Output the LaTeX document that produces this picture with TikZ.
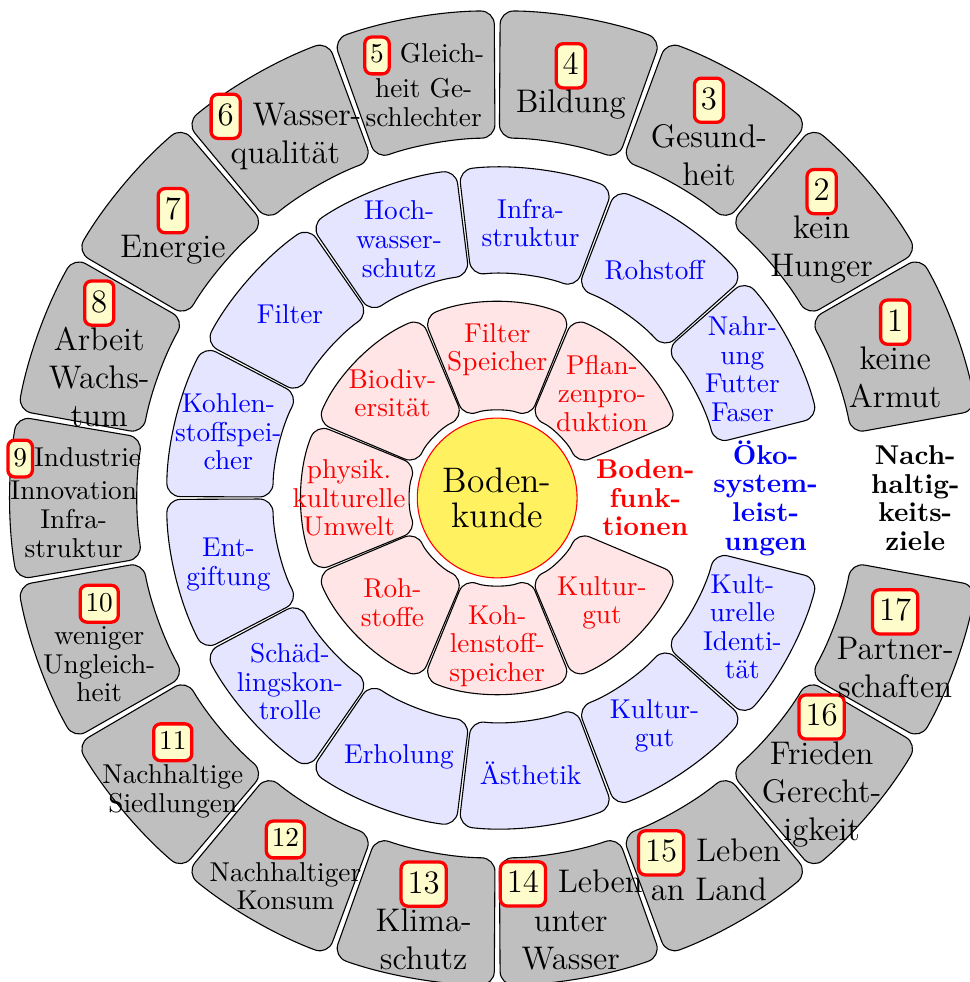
\documentclass[tikz,border=0pt]{standalone}
\definecolor{kerngelb}{RGB}{255,241,96}
\tikzset{
  sektor/.style={draw=black, rounded corners=5pt},
  rotsektor/.style={sektor, fill=red!10},
  blausektor/.style={sektor, fill=blue!10},
  grausektor/.style={sektor, fill=gray!50},
  nummer/.style={draw=red, very thick, fill=yellow!20, rounded corners=2.5pt,
    inner xsep=0.2em, inner ysep=0.1em, text height=0.85em, text depth=0.3em},
  gross/.style={align=center, font=\fontsize{12}{14}\selectfont},
  klein/.style={align=center, font=\fontsize{10}{10.5}\selectfont},
  rottext/.style={klein, text=red},
  blautext/.style={klein, text=blue},
  titel/.style={klein, font=\fontsize{10}{10.5}\selectfont\bfseries},
}
% Nummer eines Ziels
\newcommand{\sdg}[1]{\tikz[baseline=(nr.base)]\node[nummer] (nr) {#1};}
% Ringsektor: Stil, Anfangswinkel, Endwinkel, Innenradius, Aussenradius
\newcommand{\ringsektor}[5]{%
  \draw[#1] (#2:{(#4+#5)/2}) -- (#2:#5) arc[start angle=#2, end angle=#3, radius=#5]
    -- (#3:#4) arc[start angle=#3, end angle=#2, radius=#4] -- cycle;}
\begin{document}
\begin{tikzpicture}
  \useasboundingbox (-6.41,-6.24) rectangle (6.09,6.42);

  % Ringe
  \foreach \i in {1,...,7} {
    \pgfmathsetmacro\a{45*\i-22.5+0.35}
    \pgfmathsetmacro\b{45*\i+22.5-0.35}
    \ringsektor{rotsektor}{\a}{\b}{1.12}{2.52}
  }
  \foreach \i in {1,...,12} {
    \pgfmathsetmacro\a{(\i-0.5)*360/13+0.25}
    \pgfmathsetmacro\b{(\i+0.5)*360/13-0.25}
    \ringsektor{blausektor}{\a}{\b}{2.89}{4.26}
  }
  \foreach \i in {1,...,17} {
    \pgfmathsetmacro\a{20*\i-10+0.35}
    \pgfmathsetmacro\b{20*\i+10-0.35}
    \ringsektor{grausektor}{\a}{\b}{4.64}{6.28}
  }

  \node[circle, draw=red, fill=kerngelb, minimum size=2.06cm, align=center,
    font=\fontsize{13}{13}\selectfont] (kern) at (0,0) {Boden-\\kunde};

  % Bodenfunktionen
  \foreach \i/\t in {1/Pflan-\\zenpro-\\duktion, 2/Filter\\Speicher,
      3/Biodiv-\\ersität, 4/physik.\\kulturelle\\Umwelt, 5/Roh-\\stoffe,
      6/Koh-\\lenstoff-\\speicher, 7/Kultur-\\gut}
    \node[rottext] (funk\i) at (45*\i:1.91) {\t};

  % Oekosystemleistungen
  \foreach \i/\t in {1/Nahr-\\ung\\Futter\\Faser, 2/Rohstoff, 3/Infra-\\struktur,
      4/Hoch-\\wasser-\\schutz, 5/Filter, 6/Kohlen-\\stoffspei-\\cher,
      7/Ent-\\giftung, 8/Schäd-\\lingskon-\\trolle, 9/Erholung, 10/Ästhetik,
      11/Kultur-\\gut, 12/Kult-\\urelle\\Identi-\\tät}
    \node[blautext] (leist\i) at (\i*360/13:3.57) {\t};

  % Nachhaltigkeitsziele
  \foreach \i/\s/\t in {1/gross/\sdg{1}\\keine\\Armut, 2/gross/\sdg{2}\\kein\\Hunger,
      3/gross/\sdg{3}\\Gesund-\\heit, 4/gross/\sdg{4}\\Bildung,
      5/klein/\sdg{5} Gleich-\\heit Ge-\\schlechter, 6/gross/\sdg{6} Wasser-\\qualität,
      7/gross/\sdg{7}\\Energie, 8/gross/\sdg{8}\\Arbeit\\Wachs-\\tum,
      9/klein/\sdg{9}Industrie\\Innovation\\Infra-\\struktur,
      10/klein/\sdg{10}\\weniger\\Ungleich-\\heit,
      11/klein/\sdg{11}\\Nachhaltige\\Siedlungen,
      12/klein/\sdg{12}\\Nachhaltiger\\Konsum, 13/gross/\sdg{13}\\Klima-\\schutz,
      14/gross/\sdg{14} Leben\\unter\\Wasser, 15/gross/\sdg{15} Leben\\an Land,
      16/gross/\sdg{16}\\Frieden\\Gerecht-\\igkeit,
      17/gross/\sdg{17}\\Partner-\\schaften}
    \node[\s] (ziel\i) at (20*\i:5.46) {\t};

  \node[titel, text=red] (bodenfunktionen) at (0:1.91) {Boden-\\funk-\\tionen};
  \node[titel, text=blue] (oekosystem) at (0:3.46) {Öko-\\system-\\leist-\\ungen};
  \node[titel] (nachhaltigkeit) at (0:5.39) {Nach-\\haltig-\\keits-\\ziele};
\end{tikzpicture}
\end{document}
